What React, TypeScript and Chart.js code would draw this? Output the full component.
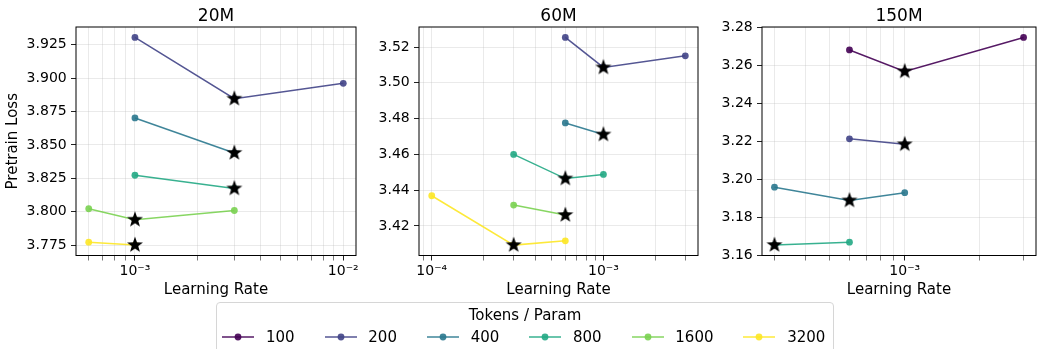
import React, { useEffect, useRef } from 'react';
import { Chart, registerables } from 'chart.js';

Chart.register(...registerables);

const FONT = "'DejaVu Sans', 'Liberation Sans', sans-serif";

// ---- legend / series identities ----
const TOKENS = ['100', '200', '400', '800', '1600', '3200'];
const COLORS = [
  'rgba(68,1,84,0.9)',
  'rgba(65,68,135,0.9)',
  'rgba(42,120,142,0.9)',
  'rgba(34,168,132,0.9)',
  'rgba(122,209,81,0.9)',
  'rgba(253,231,37,0.9)',
];

// ---- 20M ----
const LR_20M_200 = [1e-3, 3e-3, 1e-2];
const LOSS_20M_200 = [3.9305, 3.8846, 3.8961];
const LR_20M_400 = [1e-3, 3e-3];
const LOSS_20M_400 = [3.8702, 3.844];
const LR_20M_800 = [1e-3, 3e-3];
const LOSS_20M_800 = [3.8273, 3.8174];
const LR_20M_1600 = [6e-4, 1e-3, 3e-3];
const LOSS_20M_1600 = [3.8022, 3.794, 3.8009];
const LR_20M_3200 = [6e-4, 1e-3];
const LOSS_20M_3200 = [3.7772, 3.775];

// ---- 60M ----
const LR_60M_200 = [6e-4, 1e-3, 3e-3];
const LOSS_60M_200 = [3.5254, 3.5086, 3.5151];
const LR_60M_400 = [6e-4, 1e-3];
const LOSS_60M_400 = [3.4776, 3.4711];
const LR_60M_800 = [3e-4, 6e-4, 1e-3];
const LOSS_60M_800 = [3.46, 3.4465, 3.4488];
const LR_60M_1600 = [3e-4, 6e-4];
const LOSS_60M_1600 = [3.4317, 3.4261];
const LR_60M_3200 = [1e-4, 3e-4, 6e-4];
const LOSS_60M_3200 = [3.4369, 3.4093, 3.4117];

// ---- 150M ----
const LR_150M_100 = [6e-4, 1e-3, 3e-3];
const LOSS_150M_100 = [3.2681, 3.2568, 3.2747];
const LR_150M_200 = [6e-4, 1e-3];
const LOSS_150M_200 = [3.2213, 3.2184];
const LR_150M_400 = [3e-4, 6e-4, 1e-3];
const LOSS_150M_400 = [3.1958, 3.1888, 3.1929];
const LR_150M_800 = [3e-4, 6e-4];
const LOSS_150M_800 = [3.1653, 3.1668];

// ---- axis ranges and ticks ----
const X_RANGE_20M = [5.213e-4, 1.151e-2];
const X_RANGE_60M = [8.43e-5, 3.556e-3];
const X_RANGE_150M = [2.673e-4, 3.365e-3];
const Y_RANGE_20M = [3.7672, 3.9383];
const Y_RANGE_60M = [3.4035, 3.5312];
const Y_RANGE_150M = [3.1598, 3.2802];
const Y_TICKS_20M = [3.775, 3.8, 3.825, 3.85, 3.875, 3.9, 3.925];
const Y_TICKS_60M = [3.42, 3.44, 3.46, 3.48, 3.5, 3.52];
const Y_TICKS_150M = [3.16, 3.18, 3.2, 3.22, 3.24, 3.26, 3.28];
const X_TICK_EXPONENTS = [-4, -3, -2];
const X_TICK_LABELS = ['10\u207B\u2074', '10\u207B\u00B3', '10\u207B\u00B2'];

type Series = { token: string; lr: number[]; loss: number[] };

const SERIES_20M: Series[] = [
  { token: '200', lr: LR_20M_200, loss: LOSS_20M_200 },
  { token: '400', lr: LR_20M_400, loss: LOSS_20M_400 },
  { token: '800', lr: LR_20M_800, loss: LOSS_20M_800 },
  { token: '1600', lr: LR_20M_1600, loss: LOSS_20M_1600 },
  { token: '3200', lr: LR_20M_3200, loss: LOSS_20M_3200 },
];
const SERIES_60M: Series[] = [
  { token: '200', lr: LR_60M_200, loss: LOSS_60M_200 },
  { token: '400', lr: LR_60M_400, loss: LOSS_60M_400 },
  { token: '800', lr: LR_60M_800, loss: LOSS_60M_800 },
  { token: '1600', lr: LR_60M_1600, loss: LOSS_60M_1600 },
  { token: '3200', lr: LR_60M_3200, loss: LOSS_60M_3200 },
];
const SERIES_150M: Series[] = [
  { token: '100', lr: LR_150M_100, loss: LOSS_150M_100 },
  { token: '200', lr: LR_150M_200, loss: LOSS_150M_200 },
  { token: '400', lr: LR_150M_400, loss: LOSS_150M_400 },
  { token: '800', lr: LR_150M_800, loss: LOSS_150M_800 },
];

const colorOf = (token: string) => COLORS[TOKENS.indexOf(token)];

let starCache: HTMLCanvasElement | null = null;
function starImage(): HTMLCanvasElement {
  if (starCache) return starCache;
  const c = document.createElement('canvas');
  const size = 20;
  c.width = size;
  c.height = size;
  const ctx = c.getContext('2d')!;
  const R = 8.4;
  const r = 3.4;
  ctx.translate(size / 2, size / 2);
  ctx.beginPath();
  for (let i = 0; i < 10; i++) {
    const rad = i % 2 === 0 ? R : r;
    const a = -Math.PI / 2 + (i * Math.PI) / 5;
    const px = rad * Math.cos(a);
    const py = rad * Math.sin(a);
    if (i === 0) ctx.moveTo(px, py);
    else ctx.lineTo(px, py);
  }
  ctx.closePath();
  ctx.fillStyle = '#000';
  ctx.fill();
  starCache = c;
  return c;
}

const framePlugin = {
  id: 'frame',
  afterDatasetsDraw(chart: any) {
    const { ctx, chartArea: a } = chart;
    ctx.save();
    ctx.strokeStyle = '#000';
    ctx.lineWidth = 1;
    ctx.strokeRect(a.left, a.top, a.right - a.left, a.bottom - a.top);
    ctx.restore();
  },
};

type PanelProps = {
  title: string;
  series: Series[];
  xRange: number[];
  yRange: number[];
  yTicks: number[];
  yDecimals: number;
  showYTitle: boolean;
  left: number;
  width: number;
  yW: number;
  padR: number;
};

const CANVAS_H = 304;
const X_AXIS_H = 48.5;
const GRID_COLOR = 'rgba(176,176,176,0.27)';

function Panel(p: PanelProps) {
  const ref = useRef<HTMLCanvasElement | null>(null);
  useEffect(() => {
    if (!ref.current) return;
    const datasets: any[] = p.series.map((s) => {
      const c = colorOf(s.token);
      return {
        label: s.token,
        data: s.lr.map((x, i) => ({ x, y: s.loss[i] })),
        borderColor: c,
        backgroundColor: c,
        pointBackgroundColor: c,
        pointBorderWidth: 0,
        pointRadius: 3.4,
        borderWidth: 1.5,
        tension: 0,
        order: 1,
      };
    });
    const stars = p.series.map((s) => {
      let k = 0;
      s.loss.forEach((v, i) => {
        if (v < s.loss[k]) k = i;
      });
      return { x: s.lr[k], y: s.loss[k] };
    });
    datasets.push({
      label: 'best',
      data: stars,
      showLine: false,
      pointStyle: starImage(),
      pointRadius: 8,
      order: 0,
    });

    const tickFont = { family: FONT, size: 14 };
    const labelFont = { family: FONT, size: 15, lineHeight: 1.2 };
    const chart = new Chart(ref.current, {
      type: 'line',
      data: { datasets },
      plugins: [framePlugin],
      options: {
        responsive: false,
        animation: false,
        layout: { padding: { top: 0, right: p.padR, bottom: 0, left: 0 } },
        plugins: {
          legend: { display: false },
          tooltip: { enabled: false },
          title: {
            display: true,
            text: p.title,
            fullSize: false,
            color: '#000',
            font: { family: FONT, size: 17, weight: 'normal', lineHeight: 1.2 },
            padding: { top: 6.6, bottom: 0 },
          },
        },
        scales: {
          x: {
            type: 'logarithmic',
            min: p.xRange[0],
            max: p.xRange[1],
            border: { display: false },
            afterFit: (s: any) => {
              s.height = X_AXIS_H;
            },
            afterBuildTicks: (s: any) => {
              const ticks: any[] = [];
              const lo = Math.floor(Math.log10(p.xRange[0]));
              const hi = Math.ceil(Math.log10(p.xRange[1]));
              for (let e = lo; e <= hi; e++) {
                for (let k = 1; k <= 9; k++) {
                  const v = k * Math.pow(10, e);
                  if (v >= p.xRange[0] && v <= p.xRange[1]) ticks.push({ value: v, major: k === 1 });
                }
              }
              s.ticks = ticks;
            },
            grid: {
              color: GRID_COLOR,
              lineWidth: 1,
              tickLength: 5,
              tickColor: '#222',
              tickWidth: (ctx: any) => (ctx.tick && ctx.tick.major ? 1 : 0.6),
            },
            ticks: {
              autoSkip: false,
              maxRotation: 0,
              minRotation: 0,
              padding: 2,
              color: '#000',
              font: tickFont,
              major: { enabled: false },
              callback: (value: any) => {
                const e = Math.log10(Number(value));
                const r = Math.round(e);
                if (Math.abs(e - r) < 1e-9) {
                  const idx = X_TICK_EXPONENTS.indexOf(r);
                  return idx >= 0 ? X_TICK_LABELS[idx] : '';
                }
                return '';
              },
            },
            title: {
              display: true,
              text: 'Learning Rate',
              color: '#000',
              font: labelFont,
              padding: { top: 0, bottom: 5 },
            },
          },
          y: {
            type: 'linear',
            min: p.yRange[0],
            max: p.yRange[1],
            bounds: 'data',
            border: { display: false },
            afterFit: (s: any) => {
              s.width = p.yW;
            },
            afterBuildTicks: (s: any) => {
              s.ticks = p.yTicks.map((v) => ({ value: v }));
            },
            grid: {
              color: GRID_COLOR,
              lineWidth: 1,
              tickLength: 5,
              tickColor: '#222',
            },
            ticks: {
              padding: 4.3,
              color: '#000',
              font: tickFont,
              callback: (v: any) => Number(v).toFixed(p.yDecimals),
            },
            title: {
              display: p.showYTitle,
              text: 'Pretrain Loss',
              color: '#000',
              font: labelFont,
              padding: { top: 4.5, bottom: 0 },
            },
          },
        },
      } as any,
    });
    return () => chart.destroy();
  }, []);
  return (
    <canvas
      ref={ref}
      width={p.width}
      height={CANVAS_H}
      style={{ position: 'absolute', left: p.left, top: 0, width: p.width, height: CANVAS_H }}
    />
  );
}

function Legend() {
  return (
    <div
      style={{
        position: 'absolute',
        left: 216,
        top: 302,
        width: 618,
        height: 62,
        boxSizing: 'border-box',
        border: '1px solid #d6d6d6',
        borderRadius: 4,
        background: '#fff',
        fontFamily: FONT,
        fontSize: 15,
        color: '#000',
      }}
    >
      <div
        style={{
          position: 'absolute',
          left: 0,
          right: 0,
          top: 3,
          textAlign: 'center',
          lineHeight: '18px',
        }}
      >
        Tokens / Param
      </div>
      <div
        style={{
          position: 'absolute',
          left: 5.3,
          top: 25,
          height: 18,
          display: 'flex',
          alignItems: 'center',
          whiteSpace: 'nowrap',
        }}
      >
        {TOKENS.map((t, i) => (
          <div key={t} style={{ display: 'flex', alignItems: 'center', marginRight: 30 }}>
            <svg width={32} height={10} style={{ display: 'block', marginRight: 11.7 }}>
              <line x1={0} y1={5} x2={32} y2={5} stroke={COLORS[i]} strokeWidth={1.5} />
              <circle cx={16} cy={5} r={3.4} fill={COLORS[i]} />
            </svg>
            <span style={{ lineHeight: '18px' }}>{t}</span>
          </div>
        ))}
      </div>
    </div>
  );
}

export default function App() {
  return (
    <div
      style={{
        position: 'fixed',
        left: 0,
        top: 0,
        width: 1045,
        height: 349,
        overflow: 'hidden',
        background: '#fff',
      }}
    >
      <Panel
        title="20M"
        series={SERIES_20M}
        xRange={X_RANGE_20M}
        yRange={Y_RANGE_20M}
        yTicks={Y_TICKS_20M}
        yDecimals={3}
        showYTitle={true}
        left={0}
        width={365}
        yW={76}
        padR={4}
      />
      <Panel
        title="60M"
        series={SERIES_60M}
        xRange={X_RANGE_60M}
        yRange={Y_RANGE_60M}
        yTicks={Y_TICKS_60M}
        yDecimals={2}
        showYTitle={false}
        left={365}
        width={342}
        yW={54}
        padR={4}
      />
      <Panel
        title="150M"
        series={SERIES_150M}
        xRange={X_RANGE_150M}
        yRange={Y_RANGE_150M}
        yTicks={Y_TICKS_150M}
        yDecimals={2}
        showYTitle={false}
        left={707}
        width={338}
        yW={55}
        padR={2}
      />
      <Legend />
    </div>
  );
}
